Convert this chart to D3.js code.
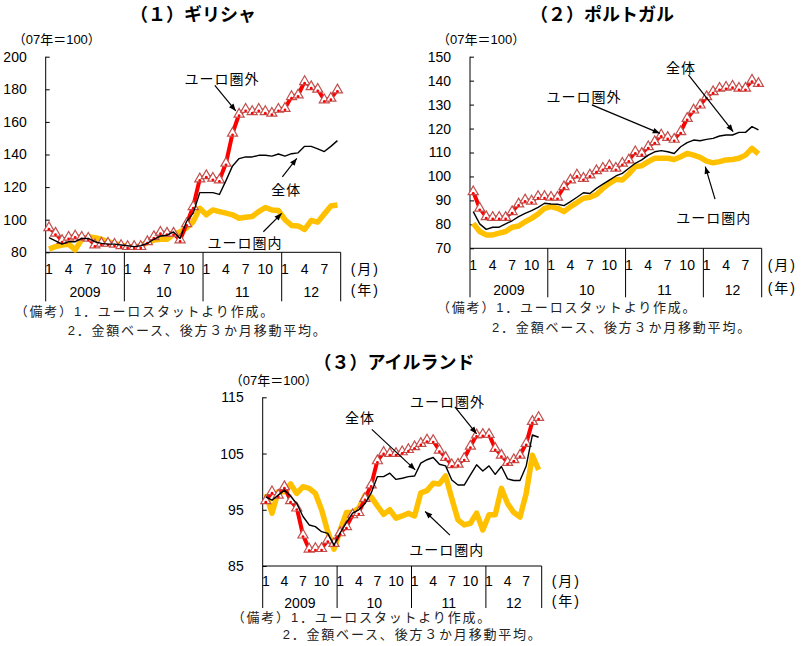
<!DOCTYPE html>
<html>
<head>
<meta charset="utf-8">
<script src="https://cdn.jsdelivr.net/npm/d3@7"></script>
<style>
body { margin: 0; background: #fff; }
text { font-family: "Liberation Sans", "Noto Sans CJK JP", sans-serif; fill: #000; }
</style>
</head>
<body>
<div id="chart"></div>
<script>
// categories: Jan 2009 - Sep 2012
const yearLabels = ["2009", "10", "11", "12"];
const monthsPerYear = [12, 12, 12, 9];
const monthTicks = [1, 4, 7, 10];
const months = [];
yearLabels.forEach((y, k) => {
  for (let m = 1; m <= monthsPerYear[k]; m++) months.push({id: `${k}-${m}`, year: k, month: m});
});

// (1) Greece
const greeceOutside = [95.1, 91.7, 87.2, 89.2, 90.0, 89.2, 88.6, 84.5, 85.5, 85.5,
  84.9, 84.1, 83.5, 83.5, 83.5, 86.5, 89.6, 92.3, 91.7, 91.7,
  87.6, 97.5, 108, 125, 127, 125.4, 124.4, 134.6, 153, 164.7,
  167.7, 166.3, 167.7, 166.3, 165.3, 167.7, 168.3, 175.5, 176.5, 184.7,
  181.6, 180, 173.5, 174.5, 179.6];
const greeceTotal = [89, 87, 85, 86.5, 86.5, 88.5, 88.5, 86.5, 85.5, 85,
  85, 84.5, 84, 83.5, 84, 85.5, 88, 90, 90.5, 92.5,
  88.5, 99, 104, 116.6, 116.6, 116.6, 115.5, 124, 133, 137.5,
  138.5, 138.5, 139.5, 139.5, 139, 140.3, 139, 140.5, 141, 145,
  145, 143.5, 141.8, 145, 148.5];
const greeceInside = [82, 83.5, 84.5, 85, 81.5, 88, 89.5, 89, 88, 86.5,
  85.5, 84.5, 83.5, 83, 84, 86, 87.5, 88, 88, 91,
  92.5, 95, 98.8, 107, 103, 106, 105, 104, 103, 100.9,
  101.5, 102, 105, 107.5, 106, 105.6, 100, 96.5, 96.2, 94,
  99.5, 98.5, 103.5, 108.4, 109];

// (2) Portugal
const portugalOutside = [93.6, 86.7, 83.2, 82.9, 82.9, 82.9, 85.3, 88.5, 90.2, 89.7,
  91.6, 91.6, 91.3, 91.3, 95.7, 98.5, 100.6, 99.2, 100.6, 102.4,
  103.4, 104.5, 103.4, 105.5, 106.9, 110.3, 109.6, 112.4, 114.5, 117.3,
  116.3, 115.5, 118.7, 124.2, 127.7, 129.8, 133.3, 135.4, 136.8, 137.2,
  137.7, 136.8, 136.8, 140.2, 138.8];
const portugalTotal = [85.3, 80.2, 77.9, 78.8, 78.8, 80.2, 81.5, 83.2, 84.6, 85.7,
  87.1, 88.8, 88.5, 88.4, 87.8, 89.5, 91.3, 93.2, 92.9, 95,
  96.8, 98.5, 100.2, 101.3, 103.4, 105.5, 106.9, 108.9, 110.3, 110.8,
  110.3, 109.6, 112.4, 114.1, 115.2, 114.9, 115.5, 115.9, 116.9, 117.3,
  117.3, 118.4, 118.4, 120.8, 119.4];
const portugalInside = [80.4, 77, 75.6, 75.6, 76.3, 77, 78.8, 79.3, 81.1, 82.5,
  84.3, 86.7, 87.4, 86.7, 85.3, 87.4, 89.1, 90.9, 91.3, 92.5,
  95, 97.1, 98.8, 98.5, 101, 104.1, 104.5, 106.2, 107.6, 107.6,
  107.6, 107.1, 108.2, 109.6, 108.9, 108, 106.4, 105.7, 106.2, 106.9,
  107.1, 107.6, 108.9, 111.7, 109.4];

// (3) Ireland
const irelandOutside = [96.6, 98.2, 97.6, 99.1, 96.6, 95.3, 90.5, 88, 88.1, 88.1,
  89.6, 89, 90.9, 92, 94.1, 94.5, 97, 99.4, 103.7, 105.2,
  105, 105, 105.3, 105.7, 106.2, 106.8, 107.4, 107.3, 105.6, 104.3,
  103, 103.1, 104.1, 106.3, 108.3, 108.4, 108.4, 105.9, 104.7, 103.4,
  103.9, 104.7, 106.8, 110.7, 111.4];
const irelandTotal = [97.3, 96.7, 97.6, 98.5, 97.4, 96.1, 93.8, 92.3, 92, 91.1,
  90.8, 88.7, 90.9, 92.7, 94.4, 95, 96.1, 98, 100.9, 100.9,
  101.5, 100.4, 100.6, 100.9, 101, 103.3, 103.9, 104.3, 103.1, 102.8,
  100.3, 99.4, 99.4, 101.2, 103, 101.9, 102.8, 101.3, 102.7, 100.5,
  100.2, 100.2, 102.8, 108.3, 107.9];
const irelandInside = [97.8, 94.4, 98.2, 98.2, 99.6, 97.9, 99.1, 98.8, 97.9, 95,
  91.1, 88, 91.4, 94.5, 94.5, 95.3, 97.6, 97.3, 95.7, 94.2,
  95, 93.5, 93.9, 94.4, 93.9, 98, 98.4, 99.7, 99.6, 101,
  97, 93.2, 92.3, 92.6, 94.4, 91.4, 94.1, 94.1, 98.8, 96.1,
  94.5, 93.7, 97.9, 104.7, 102.1];

const labelOut = "ユーロ圏外", labelTotal = "全体", labelIn = "ユーロ圏内";

const width = 802, height = 646;
const svg = d3.select("#chart").append("svg")
  .attr("width", width).attr("height", height)
  .attr("viewBox", [0, 0, width, height]);

svg.append("defs").append("marker")
  .attr("id", "arrow")
  .attr("viewBox", "0 0 10 10")
  .attr("refX", 10).attr("refY", 5)
  .attr("markerWidth", 7).attr("markerHeight", 6)
  .attr("orient", "auto")
  .append("path").attr("d", "M0,1 L10,5 L0,9 Z").attr("fill", "#000");

const panels = [
  {title: "（１）ギリシャ", titleX: 193, titleY: 15,
   left: 45.7, right: 340.7, top: 56.7, bottom: 252.3,
   yDomain: [80, 200], yTicks: d3.range(80, 201, 20),
   monthDy: 17, yearDy: 40, sepDepth: 49, unitDx: 10,
   notes: [[-31, 59], [22, 78]],
   outside: greeceOutside, total: greeceTotal, inside: greeceInside,
   ann: [
     {text: labelOut, at: [26.4, 186.1], from: [25.3, 182.4], to: [28.5, 166.7]},
     {text: labelTotal, at: [36.2, 118.2], from: [35.6, 126.3], to: [37.8, 137.6]},
     {text: labelIn, at: [29.9, 85.7], from: [32.7, 92.6], to: [35.5, 103.9]}
   ]},
  {title: "（２）ポルトガル", titleX: 602, titleY: 15,
   left: 470, right: 761.7, top: 56.7, bottom: 248.3,
   yDomain: [70, 150], yTicks: d3.range(70, 151, 10),
   monthDy: 17, yearDy: 42, sepDepth: 49, unitDx: 6,
   notes: [[-33, 59], [22, 79]],
   outside: portugalOutside, total: portugalTotal, inside: portugalInside,
   ann: [
     {text: labelTotal, at: [32.05, 145.3], from: [33.2, 142.4], to: [40.1, 118.7]},
     {text: labelOut, at: [17.1, 133.2], from: [18.3, 129.9], to: [28.8, 118]},
     {text: labelIn, at: [37.1, 82.7], from: [37.3, 90.5], to: [35.8, 104.1]}
   ]},
  {title: "（３）アイルランド", titleX: 394, titleY: 363,
   left: 262.7, right: 541.7, top: 397.3, bottom: 566,
   yDomain: [85, 115], yTicks: [85, 95, 105, 115],
   monthDy: 15, yearDy: 37, sepDepth: 42, unitDx: 10,
   notes: [[-31, 51], [20, 68]],
   outside: irelandOutside, total: irelandTotal, inside: irelandInside,
   ann: [
     {text: labelTotal, at: [15.2, 111.4], from: [17.1, 109.3], to: [24.1, 102.1]},
     {text: labelOut, at: [29.3, 114.2], from: [30.5, 113.3], to: [34.0, 108.5]},
     {text: labelIn, at: [29.2, 87.8], from: [29.7, 90.5], to: [25.7, 94.7]}
   ]}
];

panels.forEach(drawPanel);

function drawPanel(p) {
  const g = svg.append("g");
  const x = d3.scaleBand().domain(months.map(d => d.id)).range([p.left, p.right]);
  const xc = i => x(months[i].id) + x.bandwidth() / 2;
  const xi = v => p.left + (v + 0.5) * x.bandwidth(); // fractional month position for notes
  const y = d3.scaleLinear().domain(p.yDomain).range([p.bottom, p.top]);

  // title + unit
  g.append("text").attr("x", p.titleX).attr("y", p.titleY)
    .attr("text-anchor", "middle").attr("dominant-baseline", "central")
    .style("font-size", "18px").style("font-weight", "bold")
    .text(p.title);
  g.append("text").attr("x", p.left - 33).attr("y", p.top - 17)
    .attr("dominant-baseline", "central").style("font-size", "13px")
    .text("（07年＝100）");

  // y axis, ticks inside
  const ay = g.append("g").attr("transform", `translate(${p.left},0)`)
    .call(d3.axisLeft(y).tickValues(p.yTicks).tickSizeInner(-4).tickSizeOuter(0).tickPadding(19));
  ay.select(".domain").remove();
  ay.selectAll("line").attr("stroke", "#000");
  ay.selectAll("text").style("font-size", "14px").style("font-family", "Liberation Sans");

  g.append("line").attr("x1", p.left).attr("x2", p.left)
    .attr("y1", p.top).attr("y2", p.bottom).attr("stroke", "#000");

  // x axis + year separators
  g.append("line").attr("x1", p.left).attr("x2", p.right)
    .attr("y1", p.bottom).attr("y2", p.bottom).attr("stroke", "#000");
  const yearStart = yearLabels.map(( _, k) => months.findIndex(d => d.year === k));
  const bounds = yearStart.map(i => x(months[i].id)).concat([p.right]);
  g.selectAll(".sep").data(bounds).join("line")
    .attr("x1", d => d).attr("x2", d => d)
    .attr("y1", p.bottom).attr("y2", p.bottom + p.sepDepth)
    .attr("stroke", "#000");
  g.selectAll(".mlab").data(months.map((d, i) => ({...d, i})).filter(d => monthTicks.includes(d.month)))
    .join("text")
    .attr("x", d => xc(d.i)).attr("y", p.bottom + p.monthDy)
    .attr("text-anchor", "middle").attr("dominant-baseline", "central")
    .style("font-size", "14px")
    .text(d => d.month);
  g.selectAll(".ylab").data(yearLabels).join("text")
    .attr("x", (d, k) => (bounds[k] + bounds[k + 1]) / 2).attr("y", p.bottom + p.yearDy)
    .attr("text-anchor", "middle").attr("dominant-baseline", "central")
    .style("font-size", "14px")
    .text(d => d);
  g.append("text").attr("x", p.right + p.unitDx).attr("y", p.bottom + p.monthDy)
    .attr("dominant-baseline", "central").style("font-size", "14px").style("letter-spacing", "2px")
    .text("(月)");
  g.append("text").attr("x", p.right + p.unitDx).attr("y", p.bottom + p.yearDy - 2)
    .attr("dominant-baseline", "central").style("font-size", "14px").style("letter-spacing", "2px")
    .text("(年)");

  // series
  const line = d3.line().x((d, i) => xc(i)).y(d => y(d));
  g.append("path").datum(p.inside).attr("d", line)
    .attr("fill", "none").attr("stroke", "#ffc000").attr("stroke-width", 5.5)
    .attr("stroke-linejoin", "round");
  g.append("path").datum(p.outside).attr("d", line)
    .attr("fill", "none").attr("stroke", "#ff0000").attr("stroke-width", 4)
    .attr("stroke-linejoin", "round");
  g.selectAll(".tri").data(p.outside).join("path")
    .attr("transform", (d, i) => `translate(${xc(i)},${y(d)})`)
    .attr("d", d3.symbol(d3.symbolTriangle, 44))
    .attr("fill", "#fff").attr("stroke", "#c0504d").attr("stroke-width", 1.2);
  g.selectAll(".dot").data(p.outside).join("circle")
    .attr("cx", (d, i) => xc(i)).attr("cy", d => y(d) + 1.5).attr("r", 1.4)
    .attr("fill", "#ff0000");
  g.append("path").datum(p.total).attr("d", line)
    .attr("fill", "none").attr("stroke", "#000").attr("stroke-width", 1.4)
    .attr("stroke-linejoin", "round");

  // annotations
  p.ann.forEach(a => {
    g.append("line")
      .attr("x1", xi(a.from[0])).attr("y1", y(a.from[1]))
      .attr("x2", xi(a.to[0])).attr("y2", y(a.to[1]))
      .attr("stroke", "#000").attr("stroke-width", 1.2)
      .attr("marker-end", "url(#arrow)");
    g.append("text").attr("x", xi(a.at[0])).attr("y", y(a.at[1]))
      .attr("text-anchor", "middle").attr("dominant-baseline", "central")
      .style("font-size", "14px").style("letter-spacing", "1px")
      .text(a.text);
  });

  // notes
  g.append("text").attr("x", p.left + p.notes[0][0]).attr("y", p.bottom + p.notes[0][1])
    .attr("dominant-baseline", "central").style("font-size", "13px").style("letter-spacing", "1.8px")
    .style("fill", "#222")
    .text("（備考）1．ユーロスタットより作成。");
  g.append("text").attr("x", p.left + p.notes[1][0]).attr("y", p.bottom + p.notes[1][1])
    .attr("dominant-baseline", "central").style("font-size", "13px").style("letter-spacing", "1.8px")
    .style("fill", "#222")
    .text("2．金額ベース、後方３か月移動平均。");
}
</script>
</body>
</html>
